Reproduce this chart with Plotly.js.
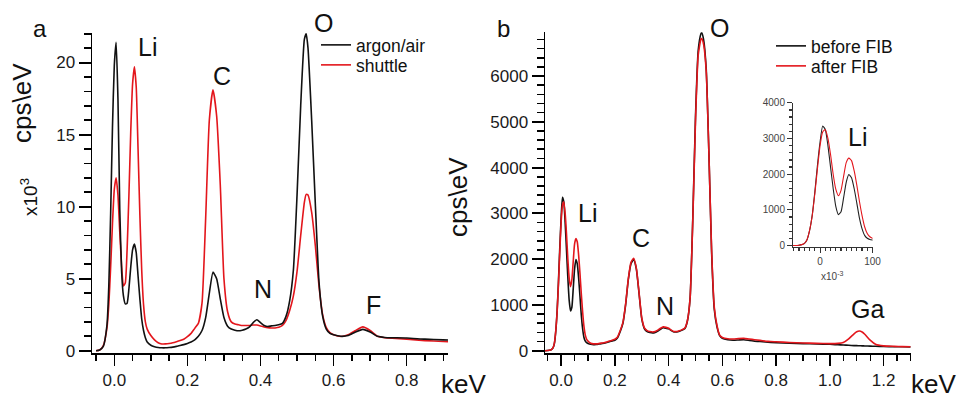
<!DOCTYPE html>
<html>
<head>
<meta charset="utf-8">
<script src="https://cdn.plot.ly/plotly-3.0.1.min.js"></script>
<style>html,body{margin:0;padding:0;background:#fff;}#chart{width:958px;height:400px;}</style>
</head>
<body>
<div id="chart"></div>
<script>
// ---------- Panel a data (keV, counts x10^3 per eV) ----------
const aEnergy = [
 -0.05,-0.04,-0.03,-0.02,-0.015,-0.01,-0.005,0,0.005,0.01,
 0.015,0.02,0.025,0.03,0.035,0.04,0.045,0.05,0.055,0.06,
 0.065,0.07,0.075,0.08,0.085,0.09,0.1,0.11,0.12,0.13,
 0.14,0.15,0.16,0.17,0.18,0.19,0.2,0.21,0.22,0.23,
 0.24,0.25,0.26,0.27,0.28,0.29,0.3,0.31,0.32,0.33,
 0.34,0.35,0.36,0.37,0.38,0.39,0.4,0.41,0.42,0.43,
 0.44,0.45,0.46,0.47,0.48,0.49,0.5,0.51,0.52,0.525,
 0.53,0.54,0.55,0.56,0.57,0.58,0.59,0.6,0.62,0.64,
 0.66,0.68,0.7,0.72,0.74,0.76,0.8,0.85,0.9,0.913
];
const aArgonAir = [
 0.0,0.05,0.3,1.8,4.5,9.5,15.5,19.8,21.4,17.5,
 9.8,5.5,3.8,3.25,3.3,4.3,5.8,7.0,7.4,6.8,
 5.2,3.6,2.2,1.4,0.9,0.6,0.38,0.28,0.22,0.2,
 0.2,0.22,0.25,0.3,0.36,0.42,0.5,0.6,0.75,1.0,
 1.4,2.3,4.0,5.45,5.0,3.6,2.3,1.7,1.5,1.42,
 1.38,1.42,1.5,1.65,1.95,2.15,1.95,1.75,1.68,1.72,
 1.75,1.8,1.9,2.4,3.5,5.6,10.8,17,21.6,22,
 21,16,10.2,4.8,2.4,1.5,1.2,1.1,1.0,1.05,
 1.3,1.48,1.3,1.0,0.92,0.9,0.88,0.8,0.75,0.74
];
const aShuttle = [
 0.0,0.05,0.35,1.6,3.2,5.8,8.8,11.2,12,10.8,
 8.2,5.9,4.5,4.7,7.0,10.8,15.2,18.5,19.7,18.3,
 14,9.4,5.6,3.2,2.0,1.5,1.05,0.75,0.55,0.47,
 0.47,0.5,0.55,0.62,0.7,0.8,0.97,1.2,1.55,1.9,
 3.3,9.2,16.0,18.1,16.3,11.5,5.0,2.7,2.0,1.85,
 1.8,1.75,1.75,1.75,1.78,1.78,1.72,1.65,1.6,1.58,
 1.58,1.62,1.75,2.1,2.8,3.8,5.5,8.0,10.3,10.85,
 10.8,9.6,7.3,4.5,2.5,1.6,1.25,1.1,0.98,1.1,
 1.4,1.65,1.4,1.0,0.9,0.86,0.8,0.7,0.64,0.63
];

// ---------- Panel b data (keV, counts per eV) ----------
const bEnergy = [
 -0.06,-0.05,-0.04,-0.035,-0.03,-0.025,-0.02,-0.015,-0.01,-0.005,
 0,0.005,0.01,0.015,0.02,0.025,0.03,0.035,0.04,0.045,
 0.05,0.055,0.06,0.065,0.07,0.075,0.08,0.085,0.09,0.095,
 0.1,0.11,0.12,0.13,0.14,0.15,0.16,0.17,0.18,0.19,
 0.2,0.21,0.22,0.23,0.24,0.25,0.26,0.27,0.28,0.29,
 0.3,0.31,0.32,0.33,0.34,0.35,0.36,0.37,0.38,0.39,
 0.4,0.41,0.42,0.43,0.44,0.45,0.46,0.47,0.48,0.49,
 0.5,0.51,0.52,0.523,0.53,0.54,0.55,0.56,0.57,0.58,
 0.59,0.6,0.62,0.64,0.66,0.68,0.7,0.72,0.74,0.76,
 0.78,0.8,0.85,0.9,0.95,1.0,1.03,1.05,1.07,1.09,
 1.1,1.11,1.12,1.13,1.15,1.17,1.2,1.24,1.27,1.3
];
const bBeforeFIB = [
 0,5,15,30,60,160,420,850,1500,2250,
 2900,3350,3250,2800,2200,1600,1100,870,950,1350,
 1780,1990,1900,1600,1200,780,480,290,210,175,
 160,140,130,135,145,155,165,180,195,215,
 230,280,420,600,1000,1550,1900,1990,1780,1250,
 700,480,420,400,390,400,430,470,500,490,
 480,440,410,410,425,450,480,650,1150,2900,
 5100,6550,6920,6950,6800,6150,4300,2150,900,520,
 330,270,240,230,235,240,225,210,200,190,
 180,175,165,155,148,140,130,125,118,112,
 110,108,106,104,100,97,92,88,85,82
];
const bAfterFIB = [
 0,5,15,30,65,170,430,830,1450,2150,
 2800,3180,3250,3000,2550,2000,1580,1400,1550,1950,
 2330,2450,2380,2100,1700,1250,850,530,340,250,
 210,165,150,150,155,165,175,190,210,230,
 250,300,440,620,1020,1570,1930,2020,1800,1270,
 720,500,440,420,410,420,450,490,520,510,
 490,450,420,420,435,460,490,660,1150,2850,
 5000,6450,6800,6820,6700,6100,4300,2200,950,550,
 340,290,260,255,265,270,255,240,225,210,
 200,195,180,170,160,155,160,180,260,370,
 415,430,410,360,230,140,105,95,90,85
];

// ---------- labels ----------
const aSeriesNames = ['argon/air', 'shuttle'];
const bSeriesNames = ['before FIB', 'after FIB'];
const aPeakLabels = ['Li', 'C', 'O', 'N', 'F'];
const bPeakLabels = ['O', 'Li', 'C', 'N', 'Ga'];

const FONT = 'Arial, "Liberation Sans", sans-serif';
const BLACK = '#000000';
const RED = '#e3161c';
const W = 958, H = 400;
const px = v => v / W;
const py = v => 1 - v / H;

function ann(text, x, y, size, extra) {
  return Object.assign({
    text: text, x: px(x), y: py(y), xref: 'paper', yref: 'paper',
    showarrow: false, xanchor: 'center', yanchor: 'middle',
    font: {family: FONT, size: size, color: '#111'}
  }, extra || {});
}

const insetX = bEnergy.map(v => v * 1000);
const LINE = (c, w) => ({color: c, width: w, shape: 'spline', smoothing: 0.5});

const traces = [
  {x: aEnergy, y: aShuttle, name: aSeriesNames[1], type: 'scatter', mode: 'lines',
   line: LINE(RED, 1.6), xaxis: 'x', yaxis: 'y', legend: 'legend2'},
  {x: aEnergy, y: aArgonAir, name: aSeriesNames[0], type: 'scatter', mode: 'lines',
   line: LINE('#111', 1.6), xaxis: 'x', yaxis: 'y', legend: 'legend'},
  {x: bEnergy, y: bBeforeFIB, name: bSeriesNames[0], type: 'scatter', mode: 'lines',
   line: LINE('#111', 1.6), xaxis: 'x2', yaxis: 'y2', legend: 'legend3'},
  {x: bEnergy, y: bAfterFIB, name: bSeriesNames[1], type: 'scatter', mode: 'lines',
   line: LINE(RED, 1.6), xaxis: 'x2', yaxis: 'y2', legend: 'legend4'},
  {x: insetX, y: bBeforeFIB, type: 'scatter', mode: 'lines', showlegend: false,
   line: LINE('#222', 1.1), xaxis: 'x3', yaxis: 'y3'},
  {x: insetX, y: bAfterFIB, type: 'scatter', mode: 'lines', showlegend: false,
   line: LINE(RED, 1.1), xaxis: 'x3', yaxis: 'y3'}
];

function baseAxis(o) {
  return Object.assign({
    showgrid: false, zeroline: false, showline: true, linecolor: BLACK, linewidth: 1.5,
    ticks: 'outside', ticklen: 11, tickwidth: 1.5, tickcolor: BLACK,
    tickfont: {family: FONT, size: 17, color: '#1a1a1a'}
  }, o);
}
function withMinor(o, d, len, w) {
  o.minor = {ticks: 'outside', ticklen: len, tickwidth: w || 1.3, tickcolor: o.tickcolor, dtick: d};
  return o;
}
function insetAxis(o) {
  return baseAxis(Object.assign({linecolor: '#333', linewidth: 1, ticklen: 5, tickwidth: 1,
    tickcolor: '#333', tickfont: {family: FONT, size: 10, color: '#444'}}, o));
}
function legendBox(x, y) {
  return {x: px(x), y: py(y), xanchor: 'left', yanchor: 'middle',
    font: {family: FONT, size: 17.5, color: '#111'}, bgcolor: 'rgba(0,0,0,0)',
    borderwidth: 0, tracegroupgap: 0, itemwidth: 30};
}

const layout = {
  width: W, height: H,
  margin: {l: 0, r: 0, t: 0, b: 0},
  paper_bgcolor: '#ffffff', plot_bgcolor: '#ffffff',
  font: {family: FONT, color: '#111'},
  showlegend: true,
  xaxis: withMinor(baseAxis({domain: [px(92), px(448)], range: [-0.061, 0.913], anchor: 'y',
    tick0: 0, dtick: 0.2, tickformat: '.1f'}), 0.05, 6),
  yaxis: withMinor(baseAxis({domain: [py(353), py(33)], range: [-0.16, 22.05], anchor: 'x',
    tick0: 0, dtick: 5, tickwidth: 2, ticklen: 12}), 1, 7, 1.6),
  xaxis2: withMinor(baseAxis({domain: [px(545), px(911)], range: [-0.06, 1.302], anchor: 'y2',
    tick0: 0, dtick: 0.2, tickformat: '.1f'}), 0.05, 6),
  yaxis2: withMinor(baseAxis({domain: [py(353), py(32.3)], range: [-50, 6955], anchor: 'x2',
    tick0: 0, dtick: 1000, tickwidth: 2, ticklen: 12}), 200, 7, 1.6),
  xaxis3: withMinor(insetAxis({domain: [px(793), px(872.5)], range: [-51.6, 100], anchor: 'y3',
    tick0: 0, dtick: 100}), 10, 3),
  yaxis3: withMinor(insetAxis({domain: [py(246.5), py(102.7)], range: [-22, 4000], anchor: 'x3',
    tick0: 0, dtick: 1000}), 200, 3),
  legend: legendBox(316, 45),
  legend2: legendBox(316, 65),
  legend3: legendBox(771, 46),
  legend4: legendBox(771, 66),
  annotations: [
    ann('a', 40, 28, 24),
    ann('b', 503, 28, 24),
    ann('cps\\eV', 22, 103, 26, {textangle: -90}),
    ann('cps\\eV', 458, 197, 26, {textangle: -90}),
    ann('x10<sup>3</sup>', 29, 197, 19, {textangle: -90}),
    ann('keV', 463, 384, 26),
    ann('keV', 933, 384, 26),
    ann(aPeakLabels[0], 147, 47, 25),
    ann(aPeakLabels[1], 222, 76, 25),
    ann(aPeakLabels[2], 323, 23, 25),
    ann(aPeakLabels[3], 263, 289, 25),
    ann(aPeakLabels[4], 373, 305, 25),
    ann(bPeakLabels[0], 719, 28, 25),
    ann(bPeakLabels[1], 587, 213, 25),
    ann(bPeakLabels[2], 641, 238, 25),
    ann(bPeakLabels[3], 665, 306, 25),
    ann(bPeakLabels[4], 867, 309, 25),
    ann('Li', 857, 137, 25),
    ann('x10<sup>-3</sup>', 832, 276, 10, {font: {family: FONT, size: 10, color: '#444'}})
  ]
};

Plotly.newPlot('chart', traces, layout, {staticPlot: true, displayModeBar: false});
</script>
</body>
</html>
